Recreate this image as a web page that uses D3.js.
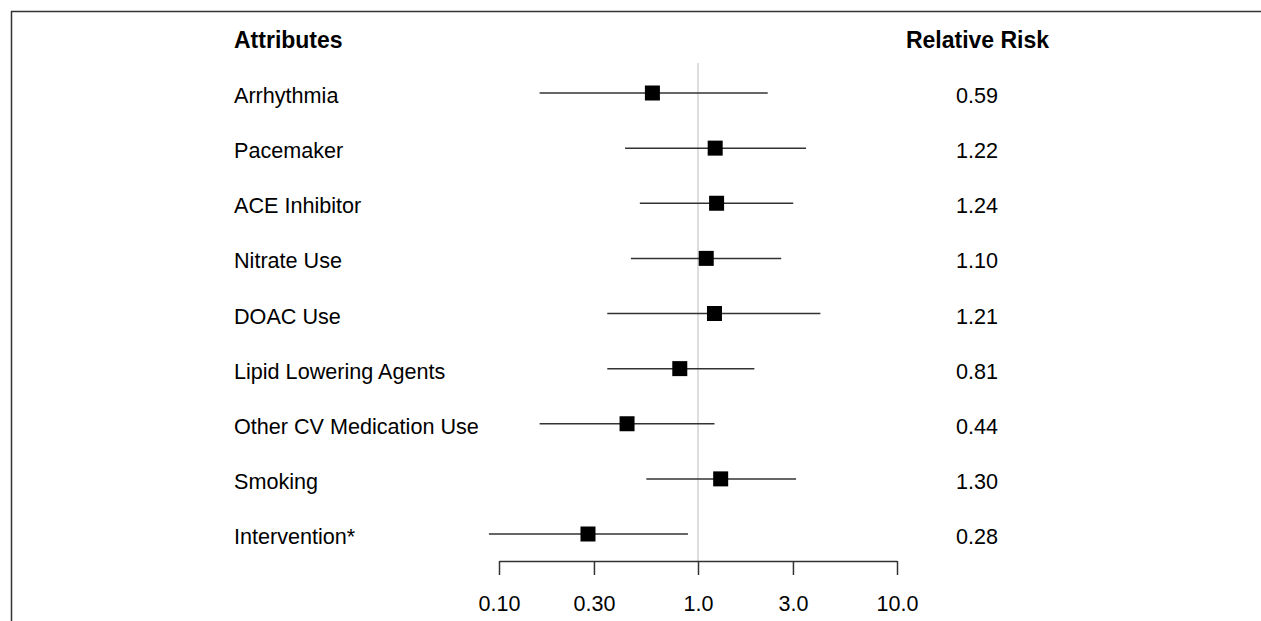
<!DOCTYPE html>
<html><head><meta charset="utf-8">
<script src="https://cdn.jsdelivr.net/npm/d3@7"></script>
<style>body{margin:0;background:#fff}svg{display:block}text{font-family:"Liberation Sans",Arial,sans-serif;fill:#000}</style>
</head><body><svg id="c" width="1261" height="621"></svg>
<script>
const attributes = ["Arrhythmia","Pacemaker","ACE Inhibitor","Nitrate Use","DOAC Use","Lipid Lowering Agents","Other CV Medication Use","Smoking","Intervention*"];
const rr    = [0.59, 1.22, 1.24, 1.10, 1.21, 0.81, 0.44, 1.30, 0.28];
const lower = [0.16, 0.43, 0.51, 0.46, 0.35, 0.35, 0.16, 0.55, 0.089];
const upper = [2.24, 3.49, 3.01, 2.62, 4.12, 1.92, 1.21, 3.11, 0.89];
const rrLabels = ["0.59","1.22","1.24","1.10","1.21","0.81","0.44","1.30","0.28"];
const tickValues = [0.1, 0.3, 1, 3, 10];
const tickLabels = ["0.10","0.30","1.0","3.0","10.0"];

const svg = d3.select("#c");
const x = d3.scaleLog().domain([0.1, 10]).range([499, 897]);
const y = d3.scalePoint().domain(attributes).range([93, 534]);

// frame
svg.append("line").attr("x1",11).attr("x2",1261).attr("y1",11.5).attr("y2",11.5).attr("stroke","#333").attr("stroke-width",1.5);
svg.append("line").attr("x1",11.5).attr("x2",11.5).attr("y1",11).attr("y2",621).attr("stroke","#333").attr("stroke-width",1.5);

// reference line
svg.append("line").attr("x1",x(1)).attr("x2",x(1)).attr("y1",63).attr("y2",561).attr("stroke","#d3d3d3").attr("stroke-width",1.5);

// headers
svg.append("text").attr("x",234).attr("y",48).attr("font-weight","bold").attr("font-size",23).text("Attributes");
svg.append("text").attr("x",977.5).attr("y",48).attr("text-anchor","middle").attr("font-weight","bold").attr("font-size",23).text("Relative Risk");

const rows = svg.append("g").selectAll("g").data(attributes).join("g");
rows.append("text").attr("x",234).attr("y",d=>y(d)+10).attr("font-size",21.6).text(d=>d);
rows.append("text").attr("x",977).attr("y",d=>y(d)+10).attr("text-anchor","middle").attr("font-size",21.6).text((d,i)=>rrLabels[i]);
rows.append("line").attr("x1",(d,i)=>x(lower[i])).attr("x2",(d,i)=>x(upper[i]))
  .attr("y1",d=>y(d)).attr("y2",d=>y(d)).attr("stroke","#333").attr("stroke-width",1.5);
rows.append("rect").attr("x",(d,i)=>x(rr[i])-7.5).attr("y",d=>y(d)-7.5).attr("width",15).attr("height",15).attr("fill","#000");

// axis
const axis = d3.axisBottom(x).tickValues(tickValues).tickFormat((d,i)=>tickLabels[i]).tickSize(14).tickSizeOuter(0);
const ag = svg.append("g").attr("transform","translate(0,561)").call(axis);
ag.select(".domain").attr("stroke","#333").attr("stroke-width",1.5);
ag.selectAll(".tick line").attr("stroke","#333").attr("stroke-width",1.5);
ag.selectAll(".tick text").attr("font-size",21.5).attr("font-family","Liberation Sans, Arial, sans-serif").attr("fill","#000").attr("dy",0).attr("y",50);
</script></body></html>
